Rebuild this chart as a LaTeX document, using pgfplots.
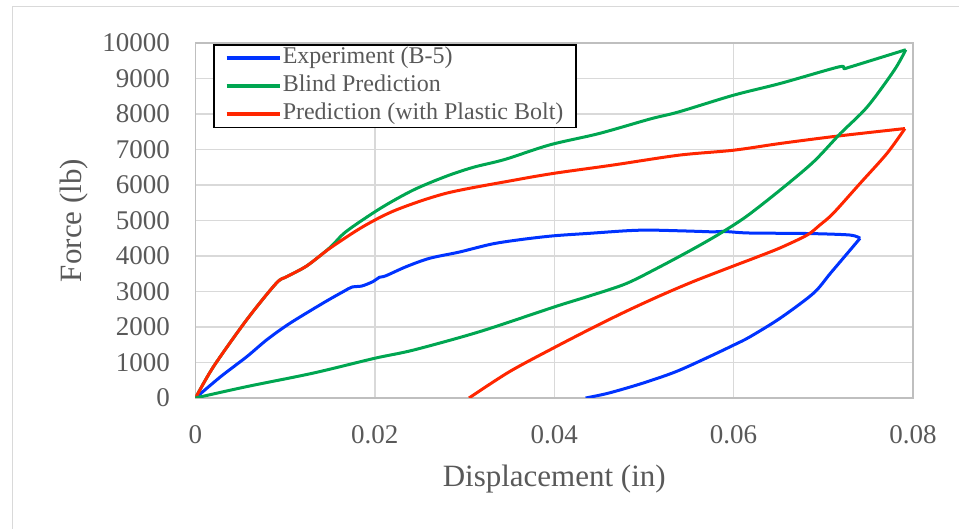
\documentclass[border=0pt]{standalone}
\usepackage{fontspec}
\setmainfont{Liberation Serif}
\usepackage{pgfplots}
\pgfplotsset{compat=1.18}
\definecolor{txtgray}{HTML}{595959}
\definecolor{gridgray}{HTML}{D9D9D9}
\definecolor{axgray}{HTML}{BFBFBF}
\definecolor{cblue}{HTML}{0033FF}
\definecolor{cgreen}{HTML}{00A651}
\definecolor{cred}{HTML}{FF2600}
\begin{document}
\begin{tikzpicture}
\useasboundingbox (-195.5pt,-131pt) rectangle (763.5pt,398pt);
\draw[gridgray, line width=1.5pt] (-183pt,-150pt) -- (-183pt,391.5pt) -- (780pt,391.5pt);
\begin{axis}[
  at={(0pt,0pt)}, anchor=south west,
  scale only axis,
  width=717.5pt, height=355pt,
  xmin=0, xmax=0.08, ymin=0, ymax=10000,
  xtick={0,0.02,0.04,0.06,0.08},
  ytick={0,1000,2000,3000,4000,5000,6000,7000,8000,9000,10000},
  scaled x ticks=false, scaled y ticks=false,
  xticklabel style={/pgf/number format/fixed, /pgf/number format/precision=2, /pgf/number format/assume math mode=true},
  yticklabel style={/pgf/number format/fixed, /pgf/number format/1000 sep={}, /pgf/number format/assume math mode=true},
  major tick length=0pt,
  tick style={draw=none},
  grid=major,
  major grid style={draw=gridgray, line width=1.4pt},
  axis line style={draw=axgray, line width=1.5pt},
  every tick label/.append style={font=\fontsize{27}{32}\selectfont, text=txtgray},
  every x tick label/.append style={anchor=north, inner sep=0pt, yshift=-27pt},
  every y tick label/.append style={anchor=east, inner sep=0pt, xshift=-25.5pt},
  every axis x label/.style={at={(axis description cs:0.5,0)}, anchor=base, yshift=-89pt, inner sep=0pt, font=\fontsize{31}{36}\selectfont, text=txtgray},
  every axis y label/.style={at={(axis description cs:0,0.5)}, anchor=base, rotate=90, yshift=113.5pt, inner sep=0pt, font=\fontsize{31}{36}\selectfont, text=txtgray},
  xlabel={Displacement (in)},
  ylabel={Force (lb)},
  legend cell align=left,
  legend image code/.code={\draw[#1, line width=3.5pt] (0pt,0pt) -- (53pt,0pt);},
  legend style={at={(rel axis cs:0.0244,0.997)}, anchor=north west,
    draw=black, line width=1.5pt, fill=white,
    font=\fontsize{24}{27}\selectfont, text=txtgray,
    inner xsep=11pt, inner ysep=2pt, row sep=5.5pt,
    nodes={inner xsep=1.5pt, inner ysep=0pt, text height=17pt, text depth=5.5pt}},
  every axis plot/.append style={line width=3pt, line join=round, smooth, tension=0.5},
]
\addplot[cblue] coordinates {
(0,0) (0.0028,600) (0.0057,1160) (0.008,1650) (0.0105,2100) (0.0142,2670)
(0.0165,3000) (0.0175,3130) (0.0185,3150) (0.0198,3280) (0.0205,3400) (0.0212,3440)
(0.0235,3700) (0.0261,3935) (0.0294,4110) (0.0331,4340) (0.0365,4470) (0.04,4570)
(0.044,4640) (0.048,4710) (0.0505,4730) (0.0539,4710) (0.0565,4690) (0.0577,4680)
(0.059,4690) (0.0614,4650) (0.065,4640) (0.0689,4630) (0.073,4590) (0.0741,4500)
};
\addlegendentry{Experiment (B-5)}
\addplot[cgreen] coordinates {
(0,0) (0.002,880) (0.0057,2200) (0.009,3230) (0.0102,3420) (0.0124,3720)
(0.015,4240) (0.0168,4690) (0.0206,5340) (0.0243,5860) (0.028,6250) (0.031,6500)
(0.0345,6720) (0.0395,7130) (0.045,7450) (0.0507,7860) (0.0539,8060) (0.06,8530)
(0.0652,8860) (0.0717,9325) (0.0723,9280) (0.073,9325) (0.0792,9810)
};
\addlegendentry{Blind Prediction}
\addplot[cred] coordinates {
(0,0) (0.002,880) (0.0057,2200) (0.009,3230) (0.0102,3420) (0.0124,3720)
(0.015,4220) (0.0187,4830) (0.0224,5300) (0.028,5770) (0.0354,6130) (0.04,6330)
(0.0465,6560) (0.0539,6840) (0.06,6980) (0.0652,7170) (0.0715,7375) (0.0791,7590)
};
\addlegendentry{Prediction (with Plastic Bolt)}
\addplot[cblue, forget plot] coordinates {
(0.0741,4500) (0.073,4170) (0.0708,3515) (0.0689,2950) (0.0652,2250) (0.0618,1720) (0.06,1490)
(0.0573,1165) (0.0536,745) (0.0499,420) (0.0461,140) (0.0435,0)
};
\addplot[cgreen, forget plot] coordinates {
(0.0792,9810) (0.0779,9230) (0.0749,8200) (0.0719,7450) (0.0689,6650) (0.0652,5860) (0.0614,5110)
(0.0584,4620) (0.0555,4200) (0.0517,3685) (0.048,3220) (0.044,2880) (0.04,2565)
(0.0317,1870) (0.0243,1350) (0.02,1120) (0.0131,700) (0.0057,320) (0,0)
};
\addplot[cred, forget plot] coordinates {
(0.0791,7590) (0.0771,6890) (0.0741,6045) (0.0711,5200) (0.0696,4870) (0.0682,4590) (0.0652,4230)
(0.0625,3960) (0.06,3720) (0.0555,3280) (0.0517,2870) (0.048,2440) (0.0443,1980)
(0.04,1420) (0.035,740) (0.0305,0)
};
\end{axis}
\end{tikzpicture}
\end{document}
